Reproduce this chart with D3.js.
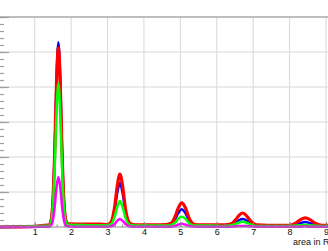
<!DOCTYPE html>
<html>
<head>
<meta charset="utf-8">
<script src="https://cdn.jsdelivr.net/npm/d3@7"></script>
<style>
  html, body { margin: 0; padding: 0; background: #fff; }
  svg { display: block; }
  .tick text { font-family: "Liberation Sans", Arial, sans-serif; }
</style>
</head>
<body>
<div id="chart"></div>
<script>
/* global d3 */

// sample positions along the area axis
var areaX = [
  0.0, 1.0, 1.2, 1.4, 1.45, 1.5, 1.55, 1.6, 1.65, 1.7, 1.75, 1.8, 1.85, 1.9, 2.0, 2.2, 2.5, 2.8,
  3.0, 3.1, 3.2, 3.27, 3.34, 3.41, 3.5, 3.6, 3.7, 3.8, 4.0, 4.3, 4.6,
  4.75, 4.85, 4.95, 5.04, 5.13, 5.25, 5.4, 5.6, 5.9, 6.2,
  6.4, 6.52, 6.62, 6.71, 6.8, 6.92, 7.1, 7.4, 7.7, 8.0,
  8.15, 8.3, 8.43, 8.56, 8.7, 8.9, 9.1
];

var redCounts = [
  0, 2, 4, 6, 19, 75, 217, 418, 512, 418, 218, 77, 22, 10, 9, 8, 8, 8,
  7, 15, 61, 119, 151, 120, 47, 12, 7, 6, 6, 6, 7,
  11, 28, 56, 69, 57, 23, 7, 6, 6, 6,
  9, 21, 34, 40, 34, 18, 6, 5, 5, 5,
  10, 21, 26, 21, 11, 5, 5
];

var blueCounts = [
  0, 2, 3, 5, 19, 76, 221, 424, 528, 424, 221, 77, 20, 9, 7, 7, 6, 6,
  6, 12, 51, 99, 126, 99, 39, 10, 6, 5, 5, 5, 5,
  9, 21, 41, 51, 41, 17, 6, 5, 5, 4,
  6, 12, 20, 23, 20, 11, 4, 4, 4, 4,
  6, 11, 14, 11, 6, 4, 4
];

var greenCounts = [
  0, 2, 3, 4, 15, 60, 172, 330, 411, 330, 172, 61, 16, 7, 6, 6, 5, 5,
  5, 8, 31, 58, 74, 58, 24, 7, 5, 4, 4, 4, 4,
  6, 12, 24, 29, 24, 10, 4, 4, 4, 3,
  5, 9, 13, 15, 13, 8, 3, 3, 3, 3,
  4, 5, 6, 5, 4, 3, 3
];

var magentaCounts = [
  0, 0, 1, 1, 5, 20, 60, 115, 143, 115, 60, 21, 5, 2, 1, 1, 1, 1,
  1, 2, 9, 18, 23, 18, 8, 2, 1, 1, 1, 1, 1,
  1, 3, 7, 9, 7, 3, 1, 1, 1, 1,
  1, 2, 3, 3, 3, 2, 1, 1, 1, 1,
  1, 1, 2, 1, 1, 1, 1
];

var xTickLabels = [ 1, 2, 3, 4, 5, 6, 7, 8, 9 ];
var xTitle = "area in Ru";

// drawing order: blue sits under red, green and magenta on top
var seriesList = [
  { name: "blue", color: "#0000ff", width: 2.5, values: blueCounts },
  { name: "red", color: "#ff0000", width: 3.2, values: redCounts },
  { name: "green", color: "#00ff00", width: 2.5, values: greenCounts },
  { name: "magenta", color: "#ff00ff", width: 2.5, values: magentaCounts }
];

var width = 328,
  height = 251,
  plot = { left: -1.7, right: 326, top: 17, bottom: 227 };

var xScale = d3.scaleLinear().domain( [ 0, 9 ] ).range( [ plot.left, plot.right ] );
var yScale = d3.scaleLinear().domain( [ 0, 600 ] ).range( [ plot.bottom, plot.top ] );

var svg = d3.select( "#chart" ).append( "svg" )
  .attr( "width", width )
  .attr( "height", height );

// grid
var grid = svg.append( "g" ).attr( "class", "grid" );
grid.selectAll( ".vgrid" )
  .data( xTickLabels )
  .enter().append( "line" )
    .attr( "class", "vgrid" )
    .attr( "x1", function( d ) { return xScale( d ); } )
    .attr( "x2", function( d ) { return xScale( d ); } )
    .attr( "y1", plot.top )
    .attr( "y2", plot.bottom )
    .style( "stroke", "#d8d8d8" )
    .style( "stroke-width", 1 );
grid.selectAll( ".hgrid" )
  .data( yScale.ticks( 6 ).filter( function( d ) { return d > 0 && d < 600; } ) )
  .enter().append( "line" )
    .attr( "class", "hgrid" )
    .attr( "x1", 0 )
    .attr( "x2", width )
    .attr( "y1", function( d ) { return yScale( d ); } )
    .attr( "y2", function( d ) { return yScale( d ); } )
    .style( "stroke", "#d8d8d8" )
    .style( "stroke-width", 1 );

// frame top
svg.append( "line" )
  .attr( "x1", 0 ).attr( "x2", width )
  .attr( "y1", plot.top ).attr( "y2", plot.top )
  .style( "stroke", "#a8a8a8" )
  .style( "stroke-width", 1.5 );

// y axis, labels fall off the left edge
var yMinor = svg.append( "g" )
  .call( d3.axisRight( yScale ).tickValues( d3.range( 0, 601, 20 ) ).tickSize( 4 ).tickFormat( "" ) );
var yMajor = svg.append( "g" )
  .call( d3.axisRight( yScale ).ticks( 6 ).tickSize( 9 ).tickFormat( "" ) );
[ yMinor, yMajor ].forEach( function( g ) {
  g.select( ".domain" ).remove();
  g.selectAll( ".tick line" ).style( "stroke", "#a0a0a0" ).style( "stroke-width", 1.2 );
} );

// spectra
var line = d3.line()
  .x( function( d, i ) { return xScale( areaX[ i ] ); } )
  .y( function( d ) { return yScale( d ); } )
  .curve( d3.curveMonotoneX );

svg.append( "g" ).selectAll( ".spectrum" )
  .data( seriesList )
  .enter().append( "path" )
    .attr( "class", "spectrum" )
    .attr( "d", function( s ) { return line( s.values ); } )
    .style( "fill", "none" )
    .style( "stroke", function( s ) { return s.color; } )
    .style( "stroke-width", function( s ) { return s.width; } )
    .style( "stroke-linejoin", "round" );

// x axis
var xMinor = svg.append( "g" )
  .attr( "transform", "translate(0," + plot.bottom + ")" )
  .call( d3.axisBottom( xScale ).tickValues( d3.range( 0, 9.05, 0.2 ) ).tickSize( -2.5 ).tickFormat( "" ) );
var xMajor = svg.append( "g" )
  .attr( "transform", "translate(0," + plot.bottom + ")" )
  .call( d3.axisBottom( xScale ).tickValues( xTickLabels ).tickSize( -5 ).tickPadding( 1.5 ).tickFormat( d3.format( "d" ) ) );
xMinor.select( ".domain" ).remove();
xMinor.selectAll( ".tick line" ).style( "stroke", "#888" );
xMajor.select( ".domain" ).remove();
xMajor.selectAll( ".tick line" ).style( "stroke", "#888" );
xMajor.selectAll( ".tick text" )
  .style( "font-size", "9px" )
  .style( "fill", "#111" );

svg.append( "line" )
  .attr( "x1", 0 ).attr( "x2", width )
  .attr( "y1", plot.bottom ).attr( "y2", plot.bottom )
  .style( "stroke", "#888" )
  .style( "stroke-width", 1 );

// axis title, cut by the right edge like the original
svg.append( "text" )
  .attr( "x", 293 )
  .attr( "y", 244.5 )
  .style( "font-family", "'Liberation Sans', Arial, sans-serif" )
  .style( "font-size", "9px" )
  .style( "fill", "#111" )
  .text( xTitle );
</script>
</body>
</html>
